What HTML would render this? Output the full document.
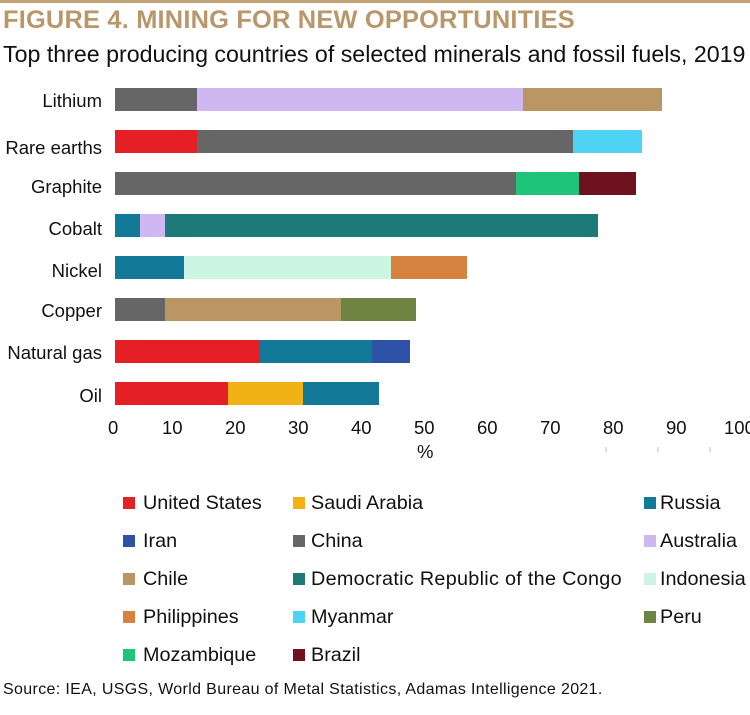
<!DOCTYPE html>
<html><head><style>
body{margin:0;width:750px;height:715px;background:#fff;position:relative;font-family:"Liberation Sans",sans-serif;overflow:hidden}
.a{position:absolute}
.t{font-size:18.5px;color:#111;white-space:nowrap}
.l{font-size:19.8px;color:#111;white-space:nowrap;position:absolute}
.b{position:absolute;height:23px}
.sw{position:absolute;width:12px;height:12px}
</style></head><body>
<div class="a" style="left:0;top:0;width:750px;height:3px;background:#c4a57a"></div>
<div class="a" style="left:3px;top:6px;font-size:25.4px;font-weight:bold;color:#b9976a;letter-spacing:0.2px;white-space:nowrap">FIGURE 4. MINING FOR NEW OPPORTUNITIES</div>
<div class="a" style="left:3px;top:41px;font-size:23.2px;color:#111;white-space:nowrap">Top three producing countries of selected minerals and fossil fuels, 2019</div>

<div class="a t" style="right:648px;top:90px">Lithium</div>
<div class="a t" style="right:648px;top:137px">Rare earths</div>
<div class="a t" style="right:648px;top:176px">Graphite</div>
<div class="a t" style="right:648px;top:218px">Cobalt</div>
<div class="a t" style="right:648px;top:260px">Nickel</div>
<div class="a t" style="right:648px;top:300px">Copper</div>
<div class="a t" style="right:648px;top:342px">Natural gas</div>
<div class="a t" style="right:648px;top:385px">Oil</div>

<div class="b" style="top:88px;left:115px;width:82px;background:#666"></div>
<div class="b" style="top:88px;left:197px;width:326px;background:#cfb8f2"></div>
<div class="b" style="top:88px;left:523px;width:139px;background:#bb9665"></div>

<div class="b" style="top:130px;left:115px;width:82px;background:#e41f26"></div>
<div class="b" style="top:130px;left:197px;width:376px;background:#666"></div>
<div class="b" style="top:130px;left:573px;width:69px;background:#4fd3f5"></div>

<div class="b" style="top:172px;left:115px;width:401px;background:#666"></div>
<div class="b" style="top:172px;left:516px;width:63px;background:#1dc47a"></div>
<div class="b" style="top:172px;left:579px;width:57px;background:#6e1220"></div>

<div class="b" style="top:214px;left:115px;width:25px;background:#127a98"></div>
<div class="b" style="top:214px;left:140px;width:25px;background:#cfb8f2"></div>
<div class="b" style="top:214px;left:165px;width:433px;background:#1e7a78"></div>

<div class="b" style="top:256px;left:115px;width:69px;background:#127a98"></div>
<div class="b" style="top:256px;left:184px;width:207px;background:#ccf5e4"></div>
<div class="b" style="top:256px;left:391px;width:76px;background:#d5823e"></div>

<div class="b" style="top:298px;left:115px;width:50px;background:#666"></div>
<div class="b" style="top:298px;left:165px;width:176px;background:#bb9665"></div>
<div class="b" style="top:298px;left:341px;width:75px;background:#6e8443"></div>

<div class="b" style="top:340px;left:115px;width:144px;background:#e41f26"></div>
<div class="b" style="top:340px;left:259px;width:113px;background:#127a98"></div>
<div class="b" style="top:340px;left:372px;width:38px;background:#2d52a8"></div>

<div class="b" style="top:382px;left:115px;width:113px;background:#e41f26"></div>
<div class="b" style="top:382px;left:228px;width:75px;background:#f0b214"></div>
<div class="b" style="top:382px;left:303px;width:76px;background:#127a98"></div>

<div class="a t" style="top:417px;left:0;width:750px;height:22px">
<span class="a" style="left:108px">0</span><span class="a" style="left:162px">10</span><span class="a" style="left:225px">20</span><span class="a" style="left:288px">30</span><span class="a" style="left:351px">40</span><span class="a" style="left:414px">50</span><span class="a" style="left:477px">60</span><span class="a" style="left:540px">70</span><span class="a" style="left:603px">80</span><span class="a" style="left:666px">90</span><span class="a" style="left:724px">100</span>
</div>
<div class="a t" style="left:417px;top:441px">%</div>
<div class="a" style="left:605px;top:447px;width:2px;height:5px;background:#ddd"></div>
<div class="a" style="left:657px;top:447px;width:2px;height:5px;background:#ddd"></div>
<div class="a" style="left:709px;top:447px;width:2px;height:5px;background:#ddd"></div>

<div class="sw" style="left:123px;top:497px;background:#e41f26"></div><div class="l" style="left:143px;top:492px">United States</div>
<div class="sw" style="left:293px;top:497px;background:#f0b214"></div><div class="l" style="left:311px;top:492px">Saudi Arabia</div>
<div class="sw" style="left:644px;top:497px;background:#127a98"></div><div class="l" style="left:660px;top:492px">Russia</div>

<div class="sw" style="left:123px;top:535px;background:#2d52a8"></div><div class="l" style="left:143px;top:530px">Iran</div>
<div class="sw" style="left:293px;top:535px;background:#666"></div><div class="l" style="left:311px;top:530px">China</div>
<div class="sw" style="left:644px;top:535px;background:#cfb8f2"></div><div class="l" style="left:660px;top:530px">Australia</div>

<div class="sw" style="left:123px;top:573px;background:#bb9665"></div><div class="l" style="left:143px;top:568px">Chile</div>
<div class="sw" style="left:293px;top:573px;background:#1e7a78"></div><div class="l" style="left:311px;top:568px;letter-spacing:0.3px">Democratic Republic of the Congo</div>
<div class="sw" style="left:644px;top:573px;background:#ccf5e4"></div><div class="l" style="left:660px;top:568px">Indonesia</div>

<div class="sw" style="left:123px;top:611px;background:#d5823e"></div><div class="l" style="left:143px;top:606px">Philippines</div>
<div class="sw" style="left:293px;top:611px;background:#4fd3f5"></div><div class="l" style="left:311px;top:606px">Myanmar</div>
<div class="sw" style="left:644px;top:611px;background:#6e8443"></div><div class="l" style="left:660px;top:606px">Peru</div>

<div class="sw" style="left:123px;top:649px;background:#1dc47a"></div><div class="l" style="left:143px;top:644px">Mozambique</div>
<div class="sw" style="left:293px;top:649px;background:#6e1220"></div><div class="l" style="left:311px;top:644px">Brazil</div>

<div class="a" style="left:3px;top:681px;font-size:16px;letter-spacing:0.35px;color:#111;white-space:nowrap">Source: IEA, USGS, World Bureau of Metal Statistics, Adamas Intelligence 2021.</div>
</body></html>
